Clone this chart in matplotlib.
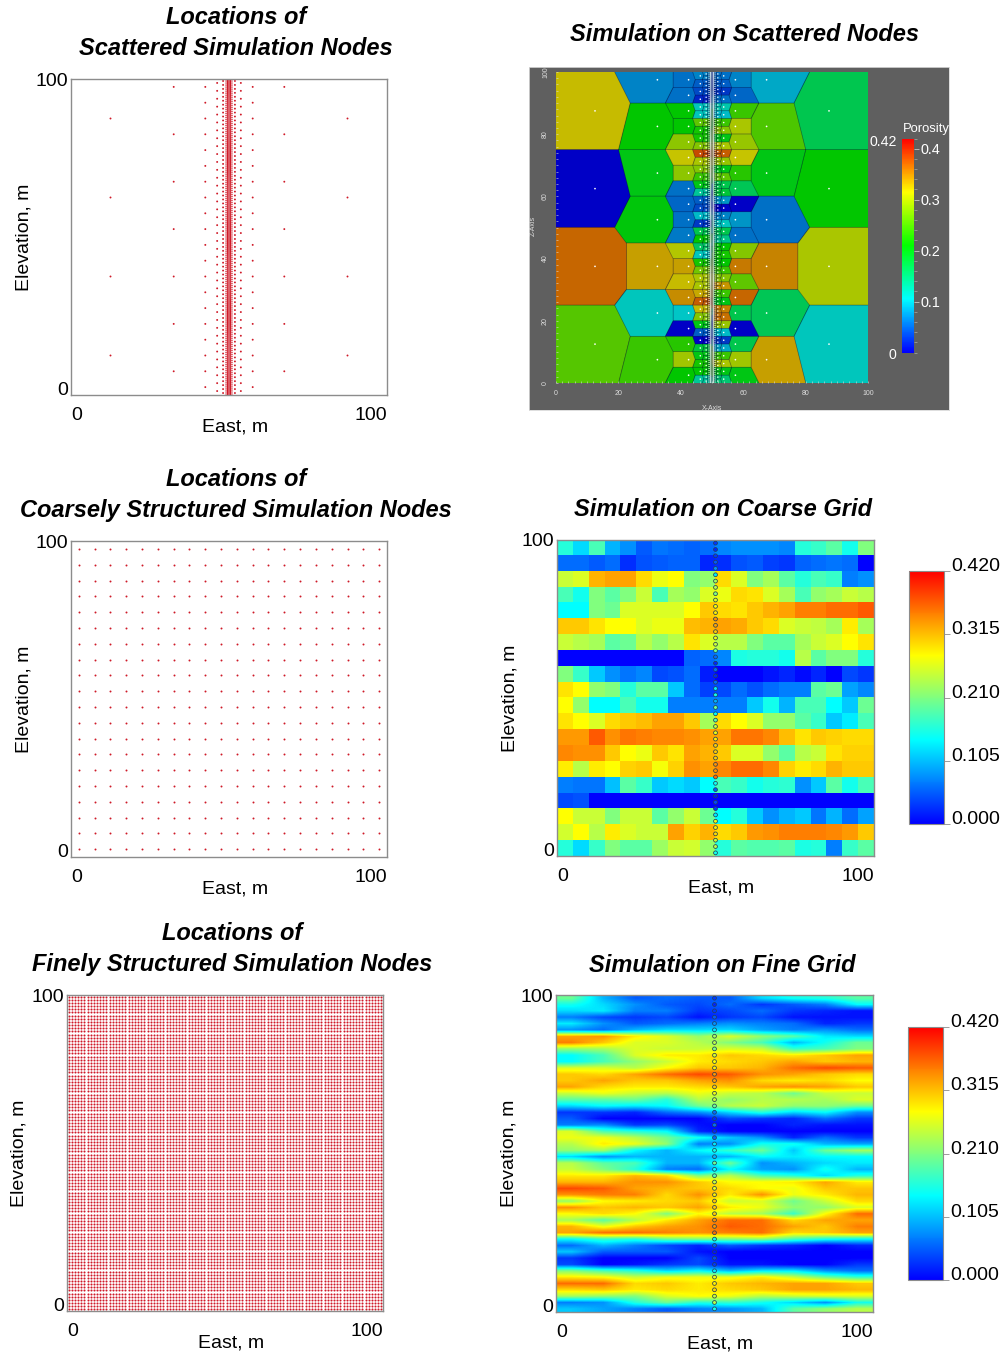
import numpy as np
import matplotlib
matplotlib.use("Agg")
import matplotlib.pyplot as plt
from matplotlib.colors import LinearSegmentedColormap, Normalize
from matplotlib.transforms import Affine2D
from matplotlib.ticker import MultipleLocator

W, H = 1003, 1354
plt.rcParams['font.family'] = ['Liberation Sans', 'DejaVu Sans']

# ---------- data (porosity x 100 where noted) ----------
coarse_rows = [
 [16,12,18,10,8,5,6.5,6,5.5,6,7.5,8,8,8,7.5,16,17,19,15,21],
 [6,6,5,6,2.5,4.5,5,5.5,5.5,2,2.5,4.5,5,3.5,3,5.5,6,6.5,6,0],
 [25,26,32,33,33,30,27,28,21,22,30,26,21,23,19,16,18,17,7,8],
 [18,15,21,19,21,25,18,23,22,26,27,30,29.5,26,23,18,22,23,25,24],
 [14,14,21,20,26,26,26,26,28,31,30,29.5,31,32,33,35,35,36,36,37],
 [31,31,29.5,28,28,26,27,27,31.5,32,33,32.5,31,30,26,25,24.5,23,29,23],
 [25,24,23,19,20,24,22,24,29.5,26,24,24,21,19,19,23,25,26,28,29.5],
 [0,0,0,0,0,0,0,0,5.5,6,7.5,15.5,16,16,15,24,19,21,21,16],
 [21,17,11,8,6.5,7.5,4,4.5,6,1.5,0,0,0,1,2,0.5,2,0,4,3],
 [29.5,28,22,21,16,19,19,11,6,3.5,4,6,4.5,6,7,7,19,20,9,7.5],
 [28,22,14,14,18,15,15,7,7,7,7,7,11,15,10,18,18,14,11,20],
 [29.5,28,26,30,31,31.5,33,33,31,23,30,28,26,22,22,19,17,11,13,18],
 [33.5,33.5,37,34,35.5,35,34.5,34.5,34,33,33,35.5,35.5,34.5,31.5,29.5,31,30.5,30,30],
 [34.5,34,34,31,28,27,31,29.5,33,32,31,26,26,22,19,24,25,29.5,30.5,30.5],
 [29,24,29,28,30.5,31,27.5,30.5,34,33,34.5,36,36,34.5,30.5,29,30,32,31,31],
 [7,6.5,6.5,10.5,19,17,11,12,11,14,18,17,15,16,16.5,8,11,19,15,18],
 [4,4.5,0,0,0,0,0,0,0,0,0,0,0,0,0,0,0,0,0,0],
 [28,25,25,21,25,25,19,22,25,20,14,16,11,8,10,11,6.5,10,6,9],
 [25.5,28,24,29,26,25,25,33,30.5,32,30,31,33.5,34,35,35,35,34.5,33.5,31],
 [16,12,17,21,19,19,22.5,25,25.5,22,16,19,18.5,18.5,19,15.5,16,7,17,19],
]

fine_rows = [
 [20,10,5,6,5,5,12,15,16,19],
 [15,12,8,5,4,6,3,5,7,14],
 [12,13,7,7,3,4,6,3,2,1],
 [7,4,3,4,1,3,4,1,1,1],
 [13,8,5,6,7,8,7,6,2,3],
 [8,6,10,12,12,12,9,7,8,6],
 [33,34,29,26,22,26,22,19,13,12],
 [35,31,26,26,24,21,18,10,15,20],
 [22,23,26,25,25,26,25,17,18,21],
 [14,18,26,29,29,31,30,29,31,33],
 [14,18,22,25,29,30,31,33,31,32],
 [26,26,24,28,31,31,32,36,38,37],
 [31,30,33,36,38,37,34,33,31,30],
 [31,33,31,31,33,34,30,29,30,28],
 [33,30,29,29,30,31,33,34,33,31],
 [25,27,25,24,27,25,24,20,25,25],
 [19,19,20,16,24,22,24,24,23,26],
 [12,14,13,14,20,24,25,22,22,20],
 [3,3,2,6,8,12,16,12,14,8],
 [5,0,0,0,0,4,3,2,6,3],
 [7,8,3,4,1,0,0,2,1,1],
 [26,18,16,14,2,0,0,0,0,0],
 [27,27,24,20,15,11,8,2,6,3],
 [24,29,27,22,7,8,15,15,10,9],
 [22,23,14,10,14,17,20,11,20,23],
 [12,8,10,10,10,10,14,13,14,14],
 [24,19,18,10,10,20,8,10,12,13],
 [25,21,16,7,6,14,9,8,15,10],
 [29,29,32,30,21,24,18,16,12,16],
 [32,32,34,34,31,28,28,29,33,29],
 [38,37,33,32,31,30,28,27,31,31],
 [34,35,35,30,34,29,34,27,29,32],
 [22,28,29,30,31,25,26,20,25,30],
 [34,31,32,31,33,29,27,22,22,26],
 [28,30,28,21,28,24,23,17,28,36],
 [23,19,24,29,33,36,36,30,33,33],
 [32,27,31,33,34,37,36,33,31,35],
 [33,36,36,35,34,35,36,30,31,33],
 [14,17,16,20,21,21,22,18,15,14],
 [6,10,7,4,2,5,3,2,0,2],
 [11,5,5,5,1,0,0,0,0,0],
 [3,0,0,0,4,0,0,0,0,0],
 [4,0,1,3,4,1,1,0,0,3],
 [21,18,16,12,14,10,13,13,8,6],
 [29,28,25,27,27,27,29,25,20,17],
 [36,36,30,31,29,31,32,33,33,31],
 [30,31,29,30,29,30,31,33,33,32],
 [23,22,21,26,28,27,24,25,26,26],
 [7,8,16,20,16,17,15,12,8,15],
 [11,9,7,5,7,8,10,19,22,24],
]

well_values = [3,2,3,5,8,13,23,24,21,26,28,29,34,33,31,27,25,20,6,2,
               6,2,6,13,15,10,20,14,19,25,27,29,31,31,31,34,34,36,15,5,
               1,4,3,13,27,29,30,25,24,15]

# scattered nodes: column x and vertical spacing
column_x  = [12.5, 32.5, 42.5, 46.25, 48.125, 49.0625, 49.53, 50.0, 50.47, 50.9375, 51.875, 53.75, 57.5, 67.5, 87.5]
column_dy = [25, 15, 5, 2.5, 1.25, 0.625, 0.3125, 0.3125, 0.3125, 0.625, 1.25, 2.5, 5, 15, 25]

# porosity of the outer columns, top to bottom
poro_x12 = [.32, 0.0, .365, .255]
poro_x87 = [.168, .21, .30, .11]
poro_x32 = [.07, .21, .20, .205, .335, .11, .24]
poro_x67 = [.09, .25, .20, .06, .35, .165, .335]
poro_x42 = [.06,.06,.21,.21,.285,.315,.285,.06,.055,.06,.065,.305,.335,.32,.345,.105,0,.23,.295,.21]
poro_x57 = [.07,.055,.24,.30,.29,.315,.23,.165,0,.08,.06,.28,.355,.26,.365,.17,0,.17,.295,.20]
poro_left = [.07,.05,.04,.02,.11,.11,.26,.22,.22,.28,.38,.30,.28,.24,.20,.13,.05,.04,.10,.03,
             .17,.21,.16,.11,.22,.27,.30,.30,.33,.37,.32,.28,.20,.05,.00,.18,.20,.22,.21,.13]
poro_right = [.06,.05,.03,.06,.12,.10,.24,.28,.20,.30,.37,.29,.20,.26,.17,.18,.08,.00,.07,.11,
              .17,.14,.21,.22,.21,.24,.28,.34,.24,.20,.35,.36,.29,.10,.03,.09,.24,.30,.20,.15]

VMAX = 0.42
cbar_ticks = [0.0, 0.105, 0.21, 0.315, 0.42]
cbar_labels = ['0.000', '0.105', '0.210', '0.315', '0.420']

# ---------- helpers ----------
px = Affine2D().scale(1, -1).translate(0, H)
fig = plt.figure(figsize=(W / 100, H / 100), dpi=100, facecolor='white')

def make_axes(x0, y0, x1, y1):
    return fig.add_axes([x0 / W, 1 - y1 / H, (x1 - x0) / W, (y1 - y0) / H])

def text(x, y, s, fontsize=10, rotation=0, **kw):
    if rotation:
        x += fontsize * 0.2
    else:
        y += fontsize * 0.09
    fig.text(x, y, s, transform=px, fontsize=fontsize, rotation=rotation, ha='center', va='center', **kw)

FS = 14.0
TFS = 17.0
GREY = '#8c8c8c'

def title(x, y, s):
    text(x, y, s, fontsize=TFS, fontweight='bold', fontstyle='italic', color='black')

def style_axes(ax, xl, yl):
    ax.set_xlim(0, 100)
    ax.set_ylim(0, 100)
    ax.set_xticks([0, 100], ['0', '100'], fontsize=FS)
    ax.set_yticks([0, 100], ['0', '100'], fontsize=FS)
    ax.tick_params(axis='x', length=0, pad=8.5)
    ax.tick_params(axis='y', length=0, pad=2)
    labs = ax.get_xticklabels()
    labs[0].set_ha('left')
    labs[1].set_ha('right')
    labs = ax.get_yticklabels()
    labs[0].set_va('baseline')
    labs[1].set_va('center_baseline')
    for s in ax.spines.values():
        s.set_color(GREY)
        s.set_linewidth(1.0)
    text(xl[0], xl[1], 'East, m', fontsize=FS)
    text(yl[0], yl[1], 'Elevation, m', fontsize=FS, rotation=90)

cmap_grid = LinearSegmentedColormap.from_list('grid', ['#0000ff', '#00ffff', '#ffff00', '#ff0000'], N=256)
mesh_stops = np.array([[0, 0, 1], [0, 1, 1], [0, 1, 0], [1, 1, 0], [1, 0, 0]]) * 0.78
cmap_mesh = LinearSegmentedColormap.from_list('mesh', mesh_stops, N=256)
cmap_bar = LinearSegmentedColormap.from_list('bar', [[0, 0, 1], [0, 1, 1], [0, 1, 0], [1, 1, 0], [1, 0, 0]], N=256)
norm = Normalize(0, VMAX)

# node coordinates
node_x, node_y, node_dy = [], [], []
for cx, dy in zip(column_x, column_dy):
    ys = np.arange(dy / 2, 100, dy)
    node_x.append(np.full(ys.size, cx))
    node_y.append(ys)
    node_dy.append(np.full(ys.size, dy))
node_x = np.concatenate(node_x)
node_y = np.concatenate(node_y)
node_dy = np.concatenate(node_dy)

DOT = '#cf1a28'

# ---------- left column ----------
ax1 = make_axes(71, 79, 387, 395)
ax1.scatter(node_x, node_y, s=np.where(node_dy >= 1.25, 1.9, 1.0), c=DOT, marker='o', linewidths=0)
style_axes(ax1, (235, 426), (21, 237))
title(236, 16, 'Locations of')
title(236, 47, 'Scattered Simulation Nodes')

coarse_xy = np.arange(2.5, 100, 5)
cx, cy = np.meshgrid(coarse_xy, coarse_xy)
ax3 = make_axes(71, 541, 387, 857)
ax3.scatter(cx.ravel(), cy.ravel(), s=2.0, c=DOT, marker='o', linewidths=0)
style_axes(ax3, (235, 888), (21, 699))
title(236, 478, 'Locations of')
title(236, 509, 'Coarsely Structured Simulation Nodes')

fine_xy = np.arange(0.5, 100, 1)
fx, fy = np.meshgrid(fine_xy, fine_xy)
ax5 = make_axes(67, 995, 383, 1311)
ax5.scatter(fx.ravel(), fy.ravel(), s=2.2, c=DOT, marker='o', linewidths=0)
style_axes(ax5, (231, 1342), (16, 1153))
title(232, 932, 'Locations of')
title(232, 963, 'Finely Structured Simulation Nodes')

# ---------- mesh panel ----------
panel = make_axes(529, 67, 949, 410)
panel.set_facecolor('#5f5f5f')
panel.set_xticks([])
panel.set_yticks([])
for s in panel.spines.values():
    s.set_color('#d8d8d8')
    s.set_linewidth(0.6)

# each column's own list, read top to bottom; the columns near the well share the nearest band
column_values = {12.5: poro_x12, 32.5: poro_x32, 42.5: poro_x42, 46.25: poro_left,
                 53.75: poro_right, 57.5: poro_x57, 67.5: poro_x67, 87.5: poro_x87}
node_v = np.zeros(node_x.size)
for i, (xv, yv) in enumerate(zip(node_x, node_y)):
    if xv in column_values:
        rank = int(np.sum(node_y[node_x == xv] > yv))
        node_v[i] = column_values[xv][rank]
    elif xv < 50:
        node_v[i] = poro_left[min(int((100 - yv) / 2.5), 39)]
    elif xv > 50:
        node_v[i] = poro_right[min(int((100 - yv) / 2.5), 39)]
    else:
        node_v[i] = well_values[min(int((100 - yv) / 2), 49)] / 100

RES = 936
gx = (np.arange(RES) + 0.5) / RES * 100
gy = (np.arange(RES) + 0.5) / RES * 100
dx2 = ((gx[None, :] - node_x[:, None]) ** 2).astype(np.float32)
idx = np.zeros((RES, RES), dtype=np.int32)
for r in range(RES):
    dy2 = ((gy[r] - node_y) ** 2).astype(np.float32)
    idx[r] = np.argmin(dx2 + dy2[:, None], axis=0)
rgb = cmap_mesh(norm(node_v[idx]))
edge = np.zeros((RES, RES), dtype=bool)
edge[:, 1:] |= idx[:, 1:] != idx[:, :-1]
edge[1:, :] |= idx[1:, :] != idx[:-1, :]
rgb[edge, :3] = np.array([0.0, 0.0, 0.2])

ax2 = make_axes(556, 72, 868, 383)
ax2.imshow(rgb, origin='lower', extent=[0, 100, 0, 100], aspect='auto', interpolation='antialiased')
white_size = np.select([node_dy >= 5, node_dy >= 2.5, node_dy >= 1.25, node_dy >= 0.625],
                       [1.5, 1.3, 1.0, 0.7], default=0.5)
ax2.scatter(node_x, node_y, s=white_size, c='white', marker='o', linewidths=0, zorder=3)
ax2.set_xlim(0, 100)
ax2.set_ylim(0, 100)
ax2.set_xticks(np.arange(0, 101, 20))
ax2.set_yticks(np.arange(0, 101, 20))
ax2.xaxis.set_minor_locator(MultipleLocator(2))
ax2.yaxis.set_minor_locator(MultipleLocator(2))
ax2.tick_params(which='both', direction='in', colors='#dddddd', labelcolor='#dddddd',
                labelsize=5, width=0.4, length=1.5, pad=5)
ax2.tick_params(axis='y', labelrotation=90)
for lab in ax2.get_yticklabels():
    lab.set_va('center')
for s in ax2.spines.values():
    s.set_visible(False)
text(712, 408, 'X-Axis', fontsize=5, color='#dddddd')
text(532, 226, 'Z-Axis', fontsize=5, color='#dddddd', rotation=90)

cax0 = make_axes(902, 138.5, 914, 352.5)
sm0 = plt.cm.ScalarMappable(norm=norm, cmap=cmap_bar)
cb0 = fig.colorbar(sm0, cax=cax0)
cb0.set_ticks([0.1, 0.2, 0.3, 0.4], labels=['0.1', '0.2', '0.3', '0.4'])
cb0.ax.yaxis.set_minor_locator(MultipleLocator(0.02))
cb0.ax.tick_params(which='major', colors='#dddddd', labelcolor='white', labelsize=10.4, length=3.5, width=0.5, pad=1.5)
cb0.ax.tick_params(which='minor', colors='#bbbbbb', length=2, width=0.4)
cb0.outline.set_visible(False)
text(883, 141, '0.42', fontsize=10.2, color='white')
text(892, 354, '0', fontsize=10.2, color='white')
text(926, 128, 'Porosity', fontsize=9.4, color='white')
title(744, 33, 'Simulation on Scattered Nodes')

# ---------- gridded panels ----------
well_y = np.arange(99, 0, -2)
well_x = np.full(well_y.size, 50.0)

def grid_panel(box, rows, interp, cbox, xl, yl):
    ax = make_axes(*box)
    im = ax.imshow(np.array(rows) / 100, origin='upper', extent=[0, 100, 0, 100], aspect='auto',
                   cmap=cmap_grid, norm=norm, interpolation=interp)
    ax.scatter(well_x, well_y, c=np.array(well_values) / 100, cmap=cmap_grid, norm=norm, s=7.5,
               edgecolors='#26405a', linewidths=0.55, zorder=3)
    style_axes(ax, xl, yl)
    cax = make_axes(*cbox)
    cb = fig.colorbar(im, cax=cax)
    cb.set_ticks(cbar_ticks, labels=cbar_labels)
    cb.ax.tick_params(length=4, width=0.6, color=GREY, labelsize=FS, pad=1)
    for lab in cb.ax.get_yticklabels():
        lab.set_va('baseline')
    cb.outline.set_edgecolor(GREY)
    cb.outline.set_linewidth(0.8)
    return ax

grid_panel((557, 540, 874, 856), coarse_rows, 'nearest', (909.5, 571, 944.5, 824), (721, 887), (507, 698))
title(723, 508, 'Simulation on Coarse Grid')
grid_panel((556, 995, 873, 1312), fine_rows, 'bilinear', (908.5, 1027, 943.5, 1280), (720, 1343), (506, 1153))
title(722, 964, 'Simulation on Fine Grid')

fig.savefig('out.png', dpi=100, facecolor='white')
